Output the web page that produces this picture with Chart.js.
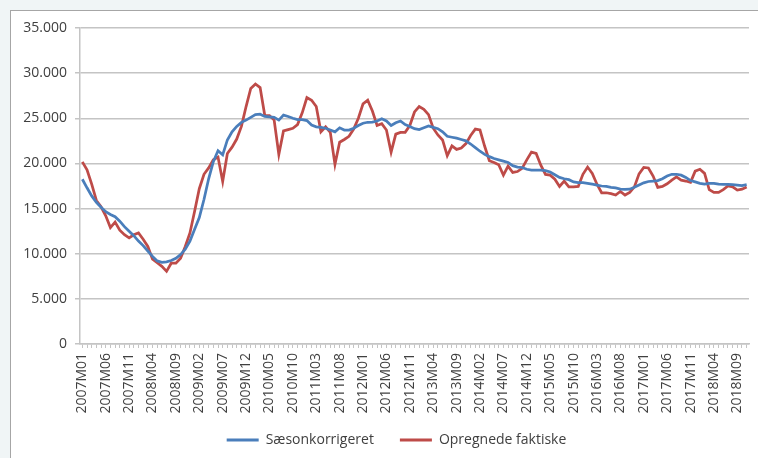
<!DOCTYPE html>
<html>
<head>
<meta charset="utf-8">
<script src="https://cdn.jsdelivr.net/npm/chart.js@4.4.1/dist/chart.umd.min.js"></script>
<style>
  html, body { margin: 0; padding: 0; background: #f0f5f6; }
  #frame {
    position: absolute; left: 10px; top: 10px;
    width: 760px; height: 460px;
    background: #ffffff; border: 1.5px solid #a6a6a6;
  }
  #wrap { position: absolute; left: 0; top: 0; width: 758px; height: 458px; }
</style>
</head>
<body>
<div id="frame"></div>
<div id="wrap"><canvas id="chart" width="758" height="458"></canvas></div>
<script>
  // Months 2007M01 .. 2018M11
  const months = [];
  for (let y = 2007; y <= 2018; y++) {
    for (let m = 1; m <= 12; m++) {
      if (y === 2018 && m === 12) break;
      months.push(y + 'M' + String(m).padStart(2, '0'));
    }
  }

  // Sæsonkorrigeret
  const seasonAdjusted = [
    18250, 17300, 16400, 15700, 15150, 14650, 14350, 14100, 13600, 13000, 12500, 12000,
    11400, 10900, 10300, 9700, 9200, 9050, 9100, 9250, 9500, 9900, 10500, 11400,
    12700, 14000, 16000, 18300, 20200, 21400, 20950, 22600, 23500, 24100, 24550, 24800,
    25100, 25400, 25450, 25200, 25150, 25100, 24800, 25350, 25200, 25000, 24850, 24850,
    24750, 24250, 24050, 24000, 23900, 23700, 23500, 23950, 23700, 23700, 23900, 24200,
    24450, 24560, 24580, 24700, 24950, 24700, 24200, 24500, 24700, 24300, 24100, 23850,
    23750, 23950, 24150, 24000, 23850, 23500, 23000, 22900, 22800, 22650, 22500, 22150,
    21750, 21350, 21000, 20750, 20550, 20400, 20250, 20100, 19750, 19600, 19550, 19350,
    19250, 19250, 19250, 19200, 19050, 18750, 18450, 18300, 18200, 17950, 17870, 17870,
    17800, 17700, 17600, 17500, 17450, 17350, 17300, 17150, 17130, 17150, 17350, 17600,
    17850, 18000, 18050, 18100, 18300, 18600, 18800, 18800, 18700, 18450, 18100, 17950,
    17800, 17700, 17800, 17800, 17700, 17690, 17690, 17650, 17600, 17550, 17650
  ];

  // Opregnede faktiske
  const actual = [
    20170, 19300, 17700, 15900, 15200, 14200, 12900, 13500, 12600, 12100, 11750, 12100,
    12300, 11600, 10800, 9400, 9000, 8600, 8050, 8950, 8950, 9500, 10800, 12300,
    14700, 17200, 18800, 19500, 20400, 20700, 18000, 21100, 21800, 22700, 24100, 26300,
    28300, 28800, 28400, 25300, 25300, 24800, 21000, 23600, 23750, 23900, 24300, 25600,
    27300, 27000, 26300, 23500, 24050, 23450, 19900, 22350, 22650, 23000, 23800, 25000,
    26600, 27000, 25800, 24200, 24400, 23700, 21250, 23250, 23440, 23450, 24200, 25700,
    26300, 26000, 25400, 23900, 23150, 22600, 20850, 21950, 21550, 21700, 22200, 23100,
    23800, 23700, 21900, 20300, 20100, 19850, 18700, 19700, 19000, 19100, 19450, 20400,
    21250, 21100, 19800, 18780, 18700, 18250, 17450, 18050, 17400, 17400, 17450, 18800,
    19600, 18900, 17700, 16750, 16750, 16650, 16500, 16900, 16500, 16800, 17400, 18850,
    19550, 19500, 18600, 17350, 17450, 17750, 18150, 18500, 18150, 18050, 17900, 19150,
    19350, 18900, 17100, 16800, 16800, 17100, 17500, 17400, 17050, 17150, 17400
  ];

  const yTicks = [0, 5000, 10000, 15000, 20000, 25000, 30000, 35000];

  const BLUE = '#4a7ebb';
  const RED = '#be4b48';
  const GRID = '#c4c4c4';
  const TEXT = '#404040';
  const FONT = '"Open Sans", "Liberation Sans", sans-serif';

  function formatThousands(v) {
    return String(v).replace(/\B(?=(\d{3})+(?!\d))/g, '.');
  }

  // Nudge the legend to the right, as in the original
  const legendShift = {
    id: 'legendShift',
    afterLayout(chart) {
      chart.legend.left += 22;
      chart.legend.right += 22;
    }
  };

  new Chart(document.getElementById('chart'), {
    type: 'line',
    data: {
      labels: months,
      datasets: [
        {
          label: 'Sæsonkorrigeret',
          data: seasonAdjusted,
          borderColor: BLUE,
          backgroundColor: BLUE,
          borderWidth: 2.75,
          pointRadius: 0,
          tension: 0
        },
        {
          label: 'Opregnede faktiske',
          data: actual,
          borderColor: RED,
          backgroundColor: RED,
          borderWidth: 2.75,
          pointRadius: 0,
          tension: 0
        }
      ]
    },
    plugins: [legendShift],
    options: {
      responsive: false,
      animation: false,
      layout: { padding: { top: 28, right: 9, left: 0, bottom: 1 } },
      scales: {
        x: {
          offset: true,
          grid: {
            drawOnChartArea: false,
            drawTicks: true,
            tickLength: 4,
            color: GRID,
            lineWidth: 1
          },
          border: { color: GRID, width: 1.5 },
          ticks: {
            autoSkip: false,
            minRotation: 90,
            maxRotation: 90,
            padding: 5,
            color: TEXT,
            font: { family: FONT, size: 14 },
            callback: function(value, index) {
              return index % 5 === 0 ? months[index] : '';
            }
          },
          afterFit: function(scale) {
            scale.height = 77;
            scale.paddingLeft = 0;
            scale.paddingRight = 0;
          }
        },
        y: {
          min: 0,
          max: 35000,
          afterBuildTicks: function(scale) {
            scale.ticks = yTicks.map(v => ({ value: v }));
          },
          grid: {
            color: GRID,
            lineWidth: 1.5,
            tickLength: 5
          },
          border: { color: GRID, width: 1.5 },
          ticks: {
            padding: 8,
            color: TEXT,
            font: { family: FONT, size: 14 },
            callback: function(value) { return formatThousands(value); }
          },
          afterFit: function(scale) { scale.width = 80; }
        }
      },
      plugins: {
        tooltip: { enabled: false },
        legend: {
          position: 'bottom',
          labels: {
            boxWidth: 32,
            boxHeight: 3,
            padding: 12,
            color: TEXT,
            font: { family: FONT, size: 14 },
            generateLabels: function(chart) {
              const items = Chart.defaults.plugins.legend.labels.generateLabels(chart);
              items.forEach(item => { item.lineWidth = 0; });
              items[0].text = items[0].text + '\u2003';
              return items;
            }
          }
        }
      }
    }
  });
</script>
</body>
</html>
